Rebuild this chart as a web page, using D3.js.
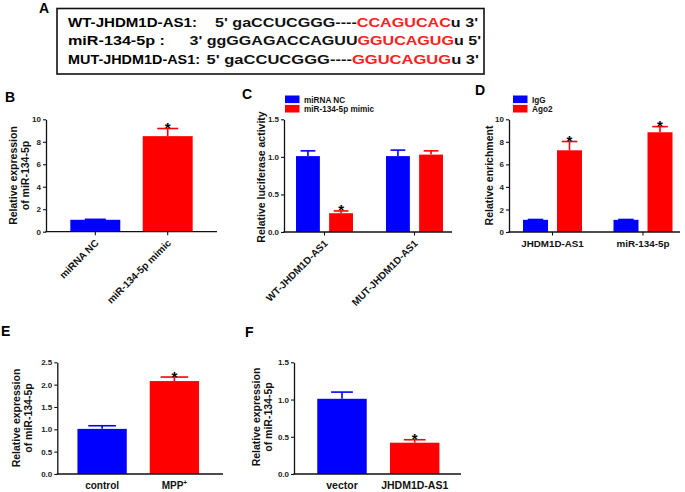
<!DOCTYPE html>
<html><head><meta charset="utf-8">
<script src="https://cdn.jsdelivr.net/npm/d3@7"></script>
<style>body{margin:0;background:#fff} svg{display:block}</style>
</head><body><svg id="c" width="685" height="492"></svg>
<script>
// ---------- Panel A: sequence alignment ----------
const seqLabels = ["WT-JHDM1D-AS1:", "miR-134-5p :", "MUT-JHDM1D-AS1:"];
const seqLeft = ["5' gaCCUCGGG----", "3' ggGGAGACCAGUU", "5' gaCCUCGGG----"];
const seqRed = ["CCAGUCAC", "GGUCAGUG", "GGUCAGUG"];
const seqRight = ["u 3'", "u 5'", "u 3'"];

// ---------- Panel B ----------
const bCategories = ["miRNA NC", "miR-134-5p mimic"];
const bValues = [1.06, 8.5];
const bErrors = [0.04, 0.68];
const bSig = [false, true];
const bTicks = [0, 2, 4, 6, 8, 10];

// ---------- Panel C ----------
const cGroups = ["WT-JHDM1D-AS1", "MUT-JHDM1D-AS1"];
const cSeries = ["miRNA NC", "miR-134-5p mimic"];
const cNC = [1.01, 1.01];
const cNCErr = [0.07, 0.08];
const cMimic = [0.25, 1.03];
const cMimicErr = [0.03, 0.05];
const cMimicSig = [true, false];
const cTicks = [0, 0.5, 1.0, 1.5];

// ---------- Panel D ----------
const dGroups = ["JHDM1D-AS1", "miR-134-5p"];
const dSeries = ["IgG", "Ago2"];
const dIgG = [1.08, 1.08];
const dIgGErr = [0.03, 0.03];
const dAgo2 = [7.25, 8.85];
const dAgo2Err = [0.78, 0.5];
const dAgo2Sig = [true, true];
const dTicks = [0, 2, 4, 6, 8, 10];

// ---------- Panel E ----------
const eCategories = ["control", "MPP"];
const eValues = [1.01, 2.08];
const eErrors = [0.07, 0.09];
const eSig = [false, true];
const eTicks = [0, 0.5, 1.0, 1.5, 2.0, 2.5];

// ---------- Panel F ----------
const fCategories = ["vector", "JHDM1D-AS1"];
const fValues = [1.01, 0.42];
const fErrors = [0.09, 0.04];
const fSig = [false, true];
const fTicks = [0, 0.5, 1.0, 1.5];

const colors = ["#0000ff", "#ff0000"];
const FONT = "Arial, 'Liberation Sans', sans-serif";

const svg = d3.select("#c");

// ---------- Panel A drawing ----------
svg.append("text").attr("x", 39).attr("y", 13).text("A")
  .attr("font-family", FONT).attr("font-weight", "bold").attr("font-size", 14);
svg.append("rect").attr("x", 57).attr("y", 8.5).attr("width", 427).attr("height", 65.5)
  .attr("fill", "none").attr("stroke", "#111").attr("stroke-width", 1.6);
const lineY = [27, 45, 63.5];
const labelLen = [129, 97, 132];
const seqStart = [215, 189.5, 206.5];
const seqEnd = [478, 481, 479];
seqLabels.forEach((lab, i) => {
  svg.append("text").attr("x", 68).attr("y", lineY[i]).text(lab)
    .attr("font-family", FONT).attr("font-weight", "bold").attr("font-size", 13.5)
    .attr("textLength", labelLen[i]).attr("lengthAdjust", "spacingAndGlyphs");
  const t = svg.append("text").attr("x", seqStart[i]).attr("y", lineY[i])
    .attr("font-family", FONT).attr("font-weight", "bold").attr("font-size", 13.5)
    .attr("textLength", seqEnd[i] - seqStart[i]).attr("lengthAdjust", "spacingAndGlyphs")
    .attr("xml:space", "preserve").style("white-space", "pre");
  t.append("tspan").text(seqLeft[i]).attr("fill", "#111");
  t.append("tspan").text(seqRed[i]).attr("fill", "#ff2020");
  t.append("tspan").text(seqRight[i]).attr("fill", "#111");
});

// ---------- helpers ----------
function panelLetter(txt, x, y) {
  svg.append("text").attr("x", x).attr("y", y).text(txt)
    .attr("font-family", FONT).attr("font-weight", "bold").attr("font-size", 14);
}
function yAxis(y, ticks, fmt, x0) {
  const ax = svg.append("g").attr("transform", `translate(${x0},0)`)
    .call(d3.axisLeft(y).tickValues(ticks).tickFormat(fmt).tickSize(3).tickSizeOuter(0).tickPadding(2));
  ax.select(".domain").attr("stroke", "#111").attr("stroke-width", 1.3);
  ax.selectAll(".tick line").attr("stroke", "#111").attr("stroke-width", 1.1);
  ax.selectAll(".tick text").attr("font-size", 8).attr("font-weight", "bold")
    .attr("font-family", FONT).attr("fill", "#222");
}
function xBase(x0, x1, y0, centers) {
  svg.append("line").attr("x1", x0 - 0.6).attr("x2", x1).attr("y1", y0).attr("y2", y0)
    .attr("stroke", "#111").attr("stroke-width", 1.3);
  centers.forEach(c => svg.append("line").attr("x1", c).attr("x2", c)
    .attr("y1", y0).attr("y2", y0 + 3.5).attr("stroke", "#111").attr("stroke-width", 1.1));
}
function yTitle(lines, xs, cy, size) {
  lines.forEach((l, i) => {
    svg.append("text").attr("transform", `translate(${xs[i]},${cy}) rotate(-90)`)
      .attr("text-anchor", "middle").text(l)
      .attr("font-family", FONT).attr("font-weight", "bold").attr("font-size", size).attr("fill", "#111");
  });
}
function bar(x, w, y, v, e, color, sig, capFrac) {
  const y0 = y(0);
  svg.append("rect").attr("x", x).attr("y", y(v)).attr("width", w).attr("height", y0 - y(v))
    .attr("fill", color);
  const cx = x + w / 2, top = y(v + e), cw = w * capFrac;
  svg.append("line").attr("x1", cx).attr("x2", cx).attr("y1", y(v)).attr("y2", top)
    .attr("stroke", color).attr("stroke-width", 1.6);
  svg.append("line").attr("x1", cx - cw / 2).attr("x2", cx + cw / 2).attr("y1", top).attr("y2", top)
    .attr("stroke", color).attr("stroke-width", 1.6);
  if (sig) {
    svg.append("text").attr("x", cx).attr("y", top + 4.5).attr("text-anchor", "middle").text("*")
      .attr("font-family", FONT).attr("font-weight", "bold").attr("font-size", 15);
  }
}
function legend(items, x, y) {
  items.forEach((it, i) => {
    svg.append("rect").attr("x", x).attr("y", y + i * 9.4).attr("width", 14.5).attr("height", 7.6)
      .attr("fill", colors[i]);
    svg.append("text").attr("x", x + 19).attr("y", y + i * 9.4 + 7.0).text(it)
      .attr("font-family", FONT).attr("font-weight", "bold").attr("font-size", 8.2).attr("fill", "#111");
  });
}
const fmtInt = d3.format("d"), fmt1 = d3.format(".1f");

// ---------- Panel B ----------
panelLetter("B", 5, 102);
{
  const y = d3.scaleLinear().domain([0, 10]).range([231.7, 119.3]);
  const x = d3.scaleBand().domain(bCategories).range([59.1, 203.9]).paddingInner(0.31).paddingOuter(0.155);
  bCategories.forEach((c, i) => bar(x(c), x.bandwidth(), y, bValues[i], bErrors[i], colors[i], bSig[i], 0.42));
  xBase(46, 217, y(0), bCategories.map(c => x(c) + x.bandwidth() / 2));
  yAxis(y, bTicks, fmtInt, 46);
  yTitle(["Relative expression", "of miR-134-5p"], [17, 29], 175.5, 10.5);
  bCategories.forEach(c => {
    const cx = x(c) + x.bandwidth() / 2;
    svg.append("text").attr("transform", `translate(${cx + 4},${y(0) + 12}) rotate(-45)`)
      .attr("text-anchor", "end").text(c)
      .attr("font-family", FONT).attr("font-weight", "bold").attr("font-size", 10).attr("fill", "#111");
  });
}

// ---------- Panel C ----------
panelLetter("C", 242, 99);
{
  const y = d3.scaleLinear().domain([0, 1.5]).range([232, 119.3]);
  const x0 = d3.scaleBand().domain(cGroups).range([279.5, 459.5]).paddingInner(0.367).paddingOuter(0.1835);
  const x1 = d3.scaleBand().domain(cSeries).range([0, x0.bandwidth()]).paddingInner(0.28);
  const vals = [cNC, cMimic], errs = [cNCErr, cMimicErr];
  cGroups.forEach((g, gi) => {
    cSeries.forEach((s, si) => {
      bar(x0(g) + x1(s), x1.bandwidth(), y, vals[si][gi], errs[si][gi], colors[si],
        si === 1 && cMimicSig[gi], 0.62);
    });
  });
  xBase(284, 452, y(0), cGroups.map(g => x0(g) + x0.bandwidth() / 2));
  yAxis(y, cTicks, fmt1, 284);
  yTitle(["Relative luciferase activity"], [265], 177, 10.5);
  legend(cSeries, 285, 95.5);
  cGroups.forEach(g => {
    const cx = x0(g) + x0.bandwidth() / 2;
    svg.append("text").attr("transform", `translate(${cx + 4},${y(0) + 12}) rotate(-45)`)
      .attr("text-anchor", "end").text(g)
      .attr("font-family", FONT).attr("font-weight", "bold").attr("font-size", 10).attr("fill", "#111");
  });
}

// ---------- Panel D ----------
panelLetter("D", 475, 95);
{
  const y = d3.scaleLinear().domain([0, 10]).range([232, 119.3]);
  const x0 = d3.scaleBand().domain(dGroups).range([507.25, 688.25]).paddingInner(0.348).paddingOuter(0.174);
  const x1 = d3.scaleBand().domain(dSeries).range([0, x0.bandwidth()]).paddingInner(0.265);
  const vals = [dIgG, dAgo2], errs = [dIgGErr, dAgo2Err];
  dGroups.forEach((g, gi) => {
    dSeries.forEach((s, si) => {
      bar(x0(g) + x1(s), x1.bandwidth(), y, vals[si][gi], errs[si][gi], colors[si],
        si === 1 && dAgo2Sig[gi], 0.62);
    });
  });
  xBase(509, 680, y(0), dGroups.map(g => x0(g) + x0.bandwidth() / 2));
  yAxis(y, dTicks, fmtInt, 509);
  yTitle(["Relative enrichment"], [493], 175.5, 10.5);
  legend(dSeries, 513, 95.5);
  dGroups.forEach(g => {
    const cx = x0(g) + x0.bandwidth() / 2;
    svg.append("text").attr("x", cx).attr("y", y(0) + 15).attr("text-anchor", "middle").text(g)
      .attr("font-family", FONT).attr("font-weight", "bold").attr("font-size", 9.8).attr("fill", "#111");
  });
}

// ---------- Panel E ----------
panelLetter("E", 1, 336);
{
  const y = d3.scaleLinear().domain([0, 2.5]).range([474, 362.3]);
  const x = d3.scaleBand().domain(eCategories).range([65.95, 210.55]).paddingInner(0.318).paddingOuter(0.159);
  eCategories.forEach((c, i) => bar(x(c), x.bandwidth(), y, eValues[i], eErrors[i], colors[i], eSig[i], 0.56));
  xBase(57.3, 223, y(0), []);
  yAxis(y, eTicks, fmt1, 57.3);
  yTitle(["Relative expression", "of miR-134-5p"], [19.5, 31.5], 418, 10.5);
  eCategories.forEach((c, i) => {
    const cx = x(c) + x.bandwidth() / 2;
    const t = svg.append("text").attr("x", cx).attr("y", 489).attr("text-anchor", "middle")
      .attr("font-family", FONT).attr("font-weight", "bold").attr("font-size", 10).attr("fill", "#111");
    t.append("tspan").text(c);
    if (c === "MPP") t.append("tspan").text("+").attr("font-size", 6.5).attr("dy", -4.5);
  });
}

// ---------- Panel F ----------
panelLetter("F", 245, 337);
{
  const y = d3.scaleLinear().domain([0, 1.5]).range([474, 362.3]);
  const x = d3.scaleBand().domain(fCategories).range([305.65, 451.05]).paddingInner(0.32).paddingOuter(0.16);
  fCategories.forEach((c, i) => bar(x(c), x.bandwidth(), y, fValues[i], fErrors[i], colors[i], fSig[i], 0.44));
  xBase(294, 461, y(0), []);
  yAxis(y, fTicks, fmt1, 294);
  yTitle(["Relative expression", "of miR-134-5p"], [259.5, 271.5], 417, 10.5);
  fCategories.forEach(c => {
    const cx = x(c) + x.bandwidth() / 2;
    svg.append("text").attr("x", cx).attr("y", 489).attr("text-anchor", "middle").text(c)
      .attr("font-family", FONT).attr("font-weight", "bold").attr("font-size", 10.5).attr("fill", "#111");
  });
}
</script></body></html>
